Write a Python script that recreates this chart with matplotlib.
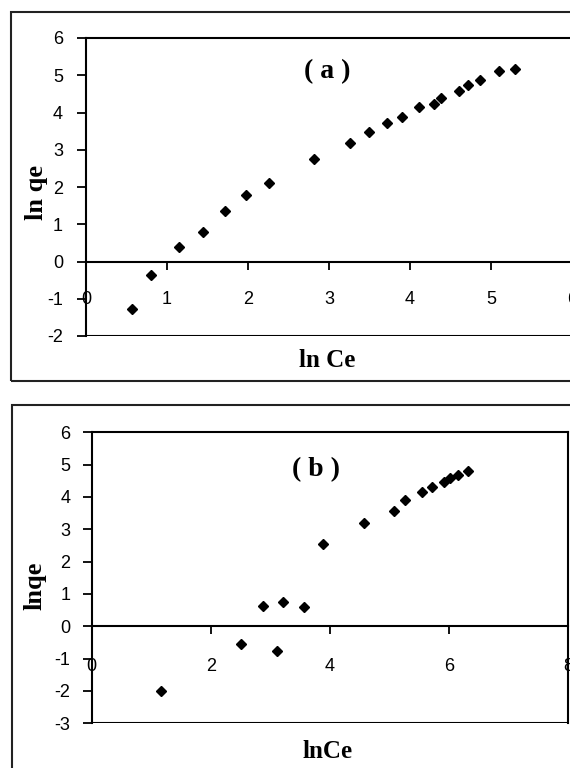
import matplotlib
matplotlib.use("Agg")
import matplotlib.pyplot as plt
from matplotlib.patches import Rectangle

plt.rcParams["axes.unicode_minus"] = False

# panel (a) data
a_lnCe = [0.57, 0.80, 1.15, 1.44, 1.72, 1.98, 2.26, 2.81, 3.26, 3.49,
          3.72, 3.90, 4.11, 4.30, 4.38, 4.60, 4.72, 4.86, 5.10, 5.30]
a_lnqe = [-1.27, -0.37, 0.40, 0.80, 1.36, 1.78, 2.10, 2.75, 3.17, 3.47,
          3.73, 3.89, 4.14, 4.24, 4.39, 4.59, 4.74, 4.86, 5.11, 5.17]

# panel (b) data
b_lnCe = [1.16, 2.50, 2.87, 3.12, 3.22, 3.57, 3.88, 4.58, 5.08, 5.27,
          5.54, 5.72, 5.92, 6.02, 6.16, 6.32]
b_lnqe = [-2.01, -0.54, 0.63, -0.77, 0.75, 0.61, 2.56, 3.20, 3.56, 3.92,
          4.16, 4.32, 4.45, 4.59, 4.69, 4.79]

a_xticks = [0, 1, 2, 3, 4, 5, 6]
a_yticks = [-2, -1, 0, 1, 2, 3, 4, 5, 6]
b_xticks = [0, 2, 4, 6, 8]
b_yticks = [-3, -2, -1, 0, 1, 2, 3, 4, 5, 6]

W, H = 570, 768
fig = plt.figure(figsize=(W / 100, H / 100), dpi=100)
fig.patch.set_facecolor("white")

tickfont = "Liberation Sans"
labfont = "Liberation Serif"


def fx(px):
    return px / W


def fy(py):
    return 1 - py / H


# outer chart boxes (run off the right / bottom edge like the scan)
fig.patches.append(Rectangle((fx(11), fy(381)), 1.2, (381 - 12) / H, transform=fig.transFigure,
                             fill=False, lw=1.5, ec="#222222"))
fig.patches.append(Rectangle((fx(12), fy(820)), 1.2, (820 - 405) / H, transform=fig.transFigure,
                             fill=False, lw=1.5, ec="#222222"))


def setup(ax, xlim, ylim, xt, yt, xpad, ypad):
    ax.set_xlim(*xlim)
    ax.set_ylim(*ylim)
    ax.set_xticks(xt)
    ax.set_yticks(yt)
    # x axis crosses at y = 0, frame bottom stays at ylim[0]
    ax.spines["bottom"].set_position(("data", 0))
    for s in ax.spines.values():
        s.set_linewidth(1.5)
    ax.axhline(ylim[0], color="black", lw=1.5)
    ax.tick_params(axis="x", direction="out", length=6, width=1.3, pad=xpad,
                   labelsize=13, labelfontfamily=tickfont)
    ax.tick_params(axis="y", direction="out", length=6.5, width=1.3, pad=ypad,
                   labelsize=13, labelfontfamily=tickfont)
    ax.patch.set_alpha(0)


ax1 = fig.add_axes([fx(86), fy(336), fx(572) - fx(86), (336 - 38) / H])
setup(ax1, (0, 6), (-2, 6), a_xticks, a_yticks, 15, 10)
ax1.plot(a_lnCe, a_lnqe, "D", color="black", ms=5, clip_on=False)

ax2 = fig.add_axes([fx(91.7), fy(723.3), fx(568) - fx(91.7), (723.3 - 432.3) / H])
setup(ax2, (0, 8), (-3, 6), b_xticks, b_yticks, 17, 9)
ax2.plot(b_lnCe, b_lnqe, "D", color="black", ms=5, clip_on=False)

fig.text(fx(327), fy(72), "( a )", fontfamily=labfont, fontweight="bold", fontsize=20,
         ha="center", va="center")
fig.text(fx(316), fy(470), "( b )", fontfamily=labfont, fontweight="bold", fontsize=20,
         ha="center", va="center")
fig.text(fx(327), fy(361), "ln Ce", fontfamily=labfont, fontweight="bold", fontsize=18,
         ha="center", va="center")
fig.text(fx(328), fy(752), "lnCe", fontfamily=labfont, fontweight="bold", fontsize=18,
         ha="center", va="center")
fig.text(fx(36), fy(192), "ln qe", fontfamily=labfont, fontweight="bold", fontsize=19,
         ha="center", va="center", rotation=90)
fig.text(fx(35), fy(586), "lnqe", fontfamily=labfont, fontweight="bold", fontsize=19,
         ha="center", va="center", rotation=90)

fig.savefig("out.png", dpi=100, facecolor="white")
